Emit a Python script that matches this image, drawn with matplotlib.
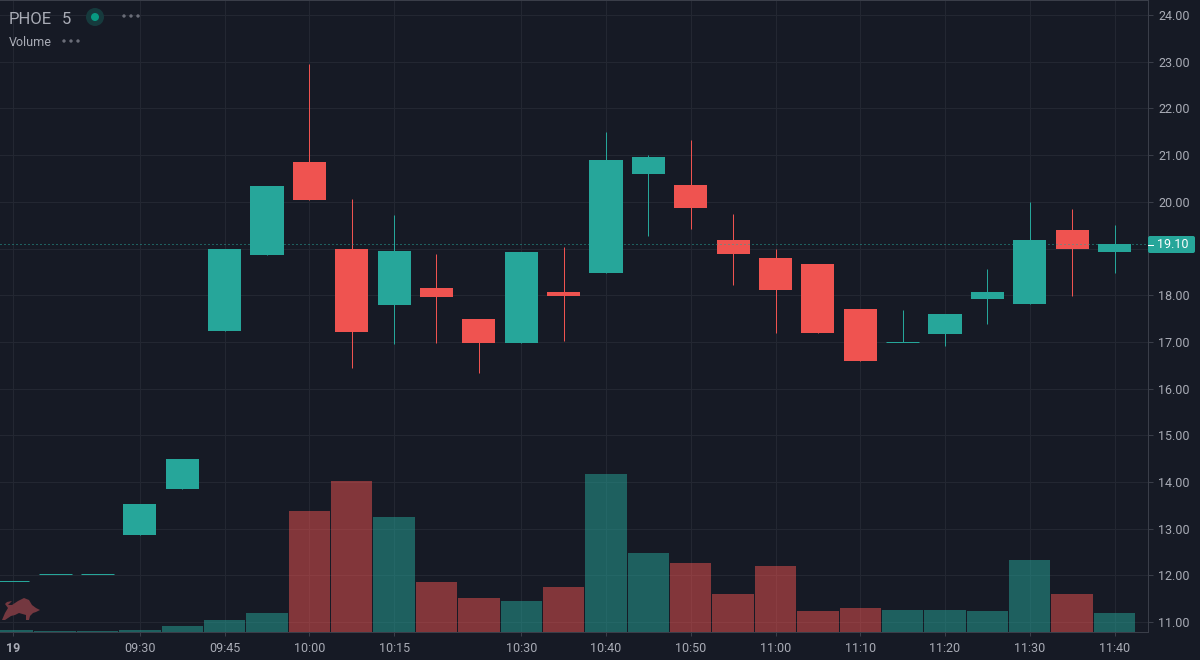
import matplotlib
matplotlib.use('Agg')
from matplotlib import pyplot as plt
from matplotlib.patches import FancyBboxPatch, Polygon, Circle
from matplotlib.lines import Line2D
import numpy as np

plt.rcParams['font.family'] = ['Roboto', 'DejaVu Sans']

opens = [11.88, 12.04, 12.04, 12.87, 13.85, 17.23, 18.86, 20.85, 18.99, 17.79, 18.15, 17.49, 16.98, 18.07,
         18.48, 20.60, 20.36, 19.18, 18.80, 18.67, 17.70, 16.99, 17.17, 17.92, 17.81, 19.40, 18.93]
highs = [11.88, 12.04, 12.04, 13.53, 14.49, 18.99, 20.34, 22.95, 20.06, 19.72, 18.88, 17.49, 18.93, 19.03,
         21.49, 21.00, 21.32, 19.74, 18.99, 18.67, 17.70, 17.68, 17.60, 18.56, 19.99, 19.85, 19.50]
lows = [11.88, 12.04, 12.04, 12.87, 13.85, 17.23, 18.86, 20.04, 16.44, 16.95, 16.98, 16.33, 16.98, 17.02,
        18.48, 19.27, 19.42, 18.22, 17.19, 17.19, 16.59, 16.99, 16.91, 17.38, 17.81, 17.98, 18.48]
closes = [11.88, 12.04, 12.04, 13.53, 14.49, 18.99, 20.34, 20.04, 17.21, 18.95, 17.96, 16.98, 18.93, 17.98,
          20.90, 20.96, 19.87, 18.88, 18.11, 17.19, 16.59, 16.99, 17.60, 18.07, 19.18, 18.99, 19.10]
volumes = [2, 1, 1, 2, 6, 12, 19, 121, 151, 115, 50, 34, 31, 45, 158, 79, 69, 38, 66, 21, 24, 22, 22, 21, 72, 38, 19]

tick_idx = [0, 3, 5, 7, 9, 12, 14, 16, 18, 20, 22, 24, 26]
tick_labels = ['19', '09:30', '09:45', '10:00', '10:15', '10:30', '10:40', '10:50', '11:00', '11:10', '11:20',
               '11:30', '11:40']
price_ticks = [11, 12, 13, 14, 15, 16, 17, 18, 19, 20, 21, 22, 23, 24]
last_price = 19.10

BG = '#161a25'
GRID = '#232732'
AXIS = '#3a3e49'
UP = '#26a69a'
DOWN = '#ef5350'
TEXT = '#a9acb6'
PX = 0.72  # one pixel in points at dpi 100

fig = plt.figure(figsize=(12, 6.6), dpi=100, facecolor=BG)
rect = [0, 28 / 660, 1148 / 1200, 632 / 660]
xlim = (-0.30, 26.79)
ylim = (10.79, 24.32)

# grid and ticks at the bottom
ax = fig.add_axes(rect, zorder=1)
ax.set_facecolor(BG)
ax.set_xlim(xlim)
ax.set_ylim(ylim)

# volume pane, 1 unit = 1 pixel
vol_ax = fig.add_axes(rect, zorder=2)
vol_ax.set_xlim(xlim)
vol_ax.set_ylim(0, 632)
vol_ax.axis('off')

# candles
candle_ax = fig.add_axes(rect, zorder=3)
candle_ax.set_xlim(xlim)
candle_ax.set_ylim(ylim)
candle_ax.axis('off')

x = np.arange(len(opens))
is_up = np.array(closes) >= np.array(opens)
colors = [UP if u else DOWN for u in is_up]
vol_ax.bar(x, volumes, width=0.975, color=colors, alpha=0.5, linewidth=0)

candle_ax.vlines(x, lows, highs, colors=colors, linewidth=PX, zorder=3)
body_low = np.minimum(opens, closes)
body_height = np.abs(np.array(closes) - np.array(opens))
candle_ax.bar(x, body_height, bottom=body_low, width=0.78, color=colors, linewidth=0, zorder=4)
flat = body_height == 0
candle_ax.hlines(np.array(closes)[flat], x[flat] - 0.39, x[flat] + 0.39, colors=UP, linewidth=PX, zorder=4)

ax.set_xticks(tick_idx)
ax.set_xticklabels(tick_labels)
ax.set_yticks(price_ticks)
# the last price tag sits on top of 19.00
ax.set_yticklabels(['' if p == 19 else f'{p:.2f}' for p in price_ticks])
ax.yaxis.tick_right()
ax.grid(True, color=GRID, linewidth=PX)
ax.set_axisbelow(True)
ax.tick_params(axis='x', colors=AXIS, labelcolor=TEXT, labelsize=9, length=3, width=PX, pad=4)
ax.tick_params(axis='y', colors=AXIS, labelcolor=TEXT, labelsize=9, length=3.6, width=PX, pad=3.6)
ax.get_xticklabels()[0].set_fontweight('bold')
ax.spines['left'].set_visible(False)
for side in ['top', 'bottom', 'right']:
    ax.spines[side].set_color(AXIS)
    ax.spines[side].set_linewidth(PX)

# last price line and tag
candle_ax.axhline(last_price, color=UP, linewidth=PX, linestyle=(0, (1, 3)), zorder=5)
fig.add_artist(FancyBboxPatch((1148, 660 - 253), 47, 17, boxstyle='round,pad=0,rounding_size=2', transform=None,
                              facecolor=UP, edgecolor='none', zorder=10))
fig.add_artist(Line2D([1148, 1153], [660 - 244.5, 660 - 244.5], transform=None, color='white', linewidth=PX,
                      zorder=11))
fig.text(1188 / 1200, 1 - 245 / 660, f'{last_price:.2f}', color='white', fontsize=9, ha='right', va='center',
         zorder=11)

# header
fig.text(9 / 1200, 1 - 19 / 660, 'PHOE', color=TEXT, fontsize=12, va='center', zorder=11)
fig.text(62 / 1200, 1 - 19 / 660, '5', color=TEXT, fontsize=12, va='center', zorder=11)
fig.text(9 / 1200, 1 - 42 / 660, 'Volume', color=TEXT, fontsize=9, va='center', zorder=11)
fig.add_artist(Circle((95, 660 - 17), 9, transform=None, facecolor='#163a3d', edgecolor='none', zorder=10))
fig.add_artist(Circle((95, 660 - 17), 4, transform=None, facecolor='#089981', edgecolor='none', zorder=11))
for dx in [124, 131, 138]:
    fig.add_artist(Circle((dx, 660 - 16), 1.7, transform=None, facecolor='#6a6d78', edgecolor='none', zorder=10))
for dx in [64, 71, 78]:
    fig.add_artist(Circle((dx, 660 - 41), 1.7, transform=None, facecolor='#6a6d78', edgecolor='none', zorder=10))

# bull logo, outline in figure pixels
bull = [(2, 620), (5, 613), (8, 608), (5, 604), (7, 602), (12, 601), (8, 605), (12, 605), (18, 601), (24, 598),
        (29, 600), (32, 605), (36, 608), (40, 610), (36, 612), (33, 613), (30, 616), (29, 620), (26, 620), (26, 615),
        (19, 613), (15, 615), (11, 616), (5, 620)]
fig.add_artist(Polygon([(px, 660 - py) for px, py in bull], closed=True, transform=None, facecolor='#743840',
                       edgecolor='none', zorder=10))

fig.savefig('out.png', dpi=100, facecolor=BG)
